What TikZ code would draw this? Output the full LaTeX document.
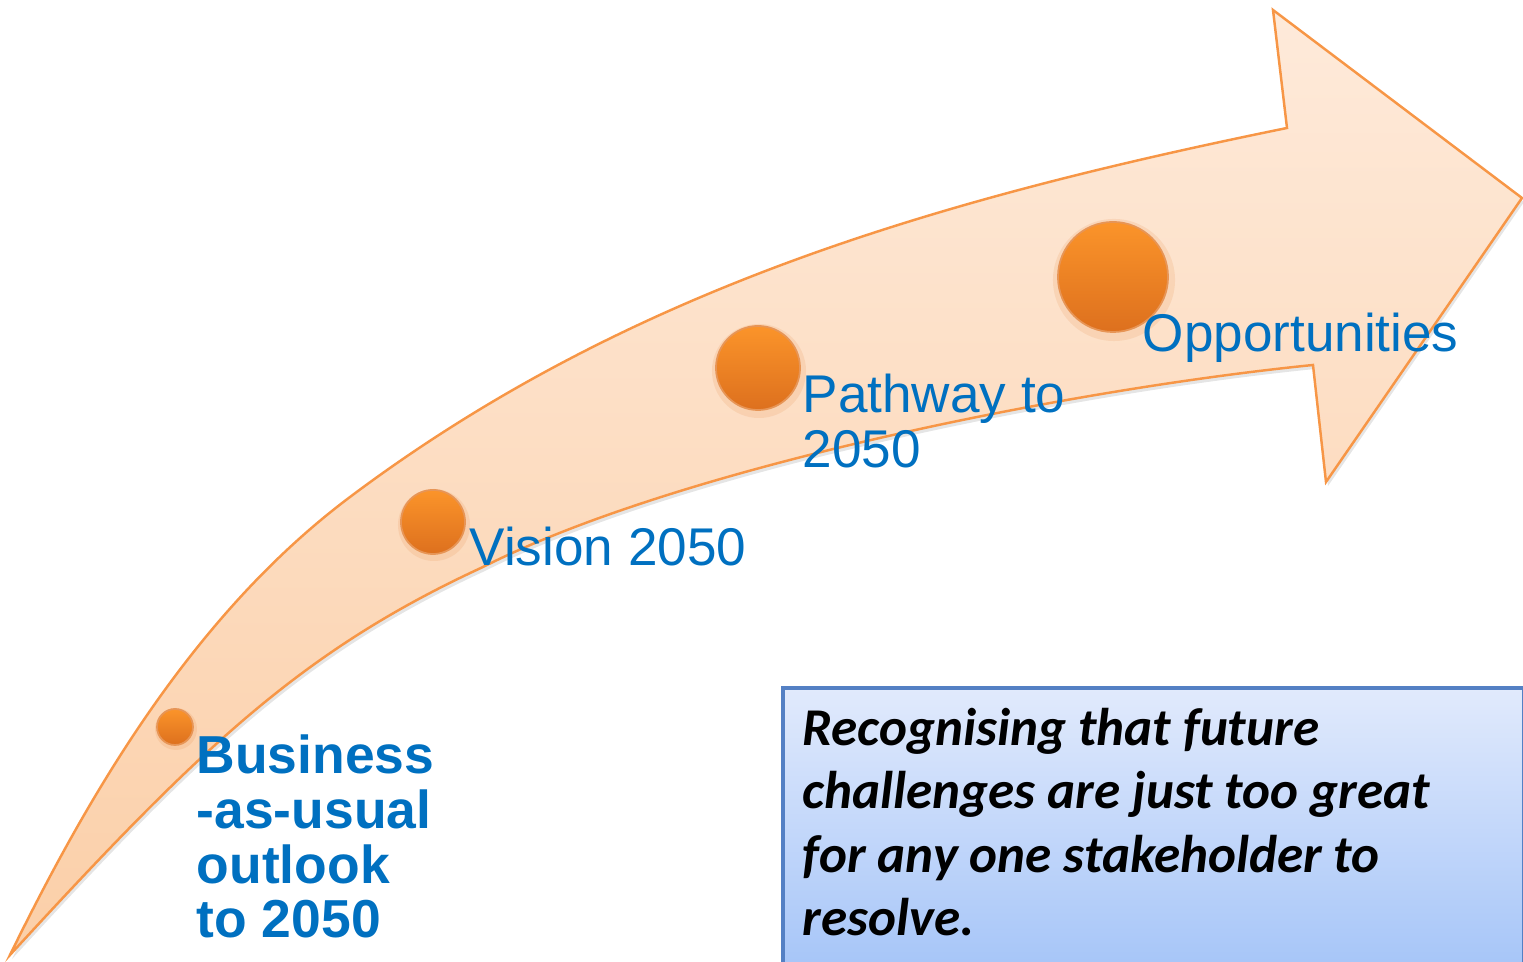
\documentclass[tikz,border=0pt]{standalone}
\usepackage{fontspec}
\setmainfont{Liberation Sans}
\newfontfamily\carl{Carlito}
\definecolor{arrowline}{RGB}{247,150,70}
\definecolor{arrowtop}{RGB}{254,234,218}
\definecolor{arrowbot}{RGB}{251,207,168}
\definecolor{dottop}{RGB}{251,148,42}
\definecolor{dotbot}{RGB}{221,112,30}
\definecolor{labelblue}{RGB}{0,112,192}
\definecolor{boxline}{RGB}{84,128,196}
\definecolor{boxtop}{RGB}{225,234,252}
\definecolor{boxbot}{RGB}{164,196,248}
\newcommand\ArrowOutline{(10,955) .. controls (93.6,784) and (198,611) .. (350,497) .. controls (630,287) and (944,198) .. (1287,128) -- (1273,10) -- (1522,198) -- (1326,482) -- (1313,365) .. controls (1065.5,390) and (679,468) .. (483,567) .. controls (301,651) and (200,748) .. (10,955) -- cycle}
\tikzset{
  arrowbody/.style={draw=arrowline, line width=0.7pt, line join=miter, top color=arrowtop, bottom color=arrowbot},
  dot/.style={circle, inner sep=0pt, top color=dottop, bottom color=dotbot, draw=dotbot!70!arrowtop, line width=0.5pt},
  glow/.style={circle, inner sep=0pt, fill=dotbot, opacity=0.12},
  label/.style={inner sep=0pt, anchor=base west, align=left, text=labelblue, font=\fontsize{15.1pt}{15.65pt}\selectfont},
  msgbox/.style={draw=boxline, line width=1pt, top color=boxtop, bottom color=boxbot, inner sep=0pt, anchor=north west, minimum width=7.41cm, minimum height=2.9cm},
  msg/.style={inner sep=0pt, anchor=base west, align=left, font=\carl\bfseries\itshape\fontsize{15.1pt}{18.1pt}\selectfont}
}
\begin{document}
\begin{tikzpicture}[x=0.01cm,y=-0.01cm]
\useasboundingbox (0,0) rectangle (1523,962);
% shadow and arrow
\fill[black, opacity=0.10, shift={(2,4)}] \ArrowOutline;
\path[arrowbody] \ArrowOutline;
% dots
\node[glow, minimum size=0.42cm] (bg) at (176,729) {};
\node[dot, minimum size=0.36cm] (b) at (175,727) {};
\node[glow, minimum size=0.72cm] (vg) at (434,525) {};
\node[dot, minimum size=0.64cm] (v) at (433,522) {};
\node[glow, minimum size=0.94cm] (pg) at (759,371) {};
\node[dot, minimum size=0.84cm] (p) at (758,368) {};
\node[glow, minimum size=1.22cm] (og) at (1114,280) {};
\node[dot, minimum size=1.10cm] (o) at (1113,277) {};
% labels (multi-line nodes: base = last line)
\node[label, font=\bfseries\fontsize{15.2pt}{15.55pt}\selectfont] (lb) at (196,938) {Business\\-as-usual\\outlook\\to 2050};
\node[label] (lv) at (469,566) {Vision 2050};
\node[label] (lp) at (802,468) {Pathway to\\2050};
\node[label] (lo) at (1142,352) {Opportunities};
% box
\node[msgbox] (box) at (781,686) {};
\node[msg] (m) at (802,936) {Recognising that future\\challenges are just too great\\for any one stakeholder to\\resolve.};
\end{tikzpicture}
\end{document}
